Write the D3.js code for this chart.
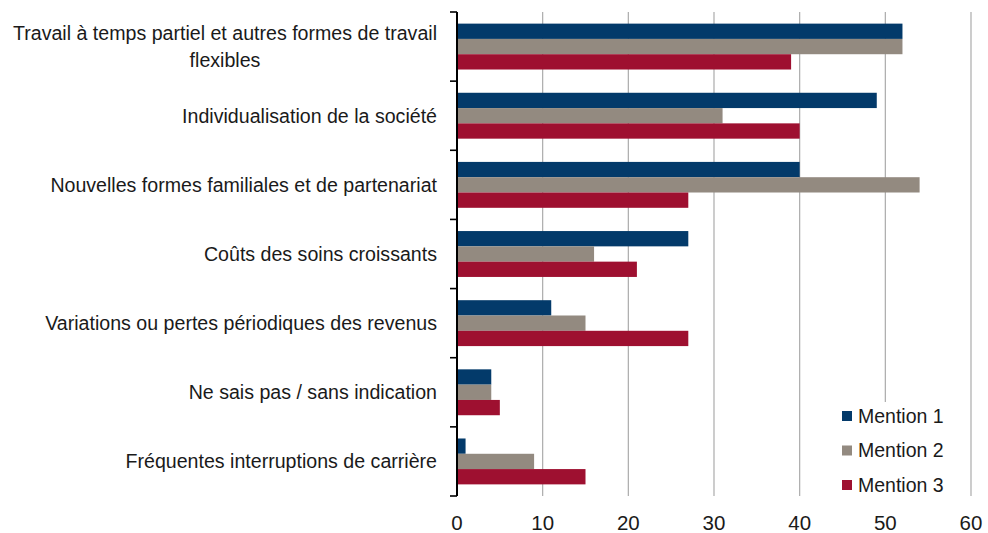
<!DOCTYPE html>
<html>
<head>
<meta charset="utf-8">
<script src="https://cdn.jsdelivr.net/npm/d3@7"></script>
<style>
  html, body { margin: 0; padding: 0; background: #fff; }
  svg { display: block; font-family: "Liberation Sans", Arial, sans-serif; }
</style>
</head>
<body>
<svg id="chart" width="988" height="533"></svg>
<script>
// Categories (top to bottom); multi-line labels split with "\n"
const categories = [
  "Travail à temps partiel et autres formes de travail\nflexibles",
  "Individualisation de la société",
  "Nouvelles formes familiales et de partenariat",
  "Coûts des soins croissants",
  "Variations ou pertes périodiques des revenus",
  "Ne sais pas / sans indication",
  "Fréquentes interruptions de carrière"
];
const seriesNames = ["Mention 1", "Mention 2", "Mention 3"];
const mention1 = [52, 49, 40, 27, 11, 4, 1];
const mention2 = [52, 31, 54, 16, 15, 4, 9];
const mention3 = [39, 40, 27, 21, 27, 5, 15];
const xTicks = [0, 10, 20, 30, 40, 50, 60];
const colors = ["#033a6a", "#938a80", "#9e1030"];

const seriesValues = [mention1, mention2, mention3];

const svg = d3.select("#chart");

const x = d3.scaleLinear().domain([0, 60]).range([457, 971]);
const y = d3.scaleBand().domain(categories).range([12, 496]).paddingInner(0).paddingOuter(0);
const ySub = d3.scaleBand().domain(seriesNames).range([0, y.bandwidth()])
  .paddingInner(0).paddingOuter(0.76);

// Vertical gridlines
svg.append("g").selectAll("line").data(xTicks.filter(d => d > 0)).join("line")
  .attr("x1", d => x(d)).attr("x2", d => x(d))
  .attr("y1", 12).attr("y2", 496)
  .attr("stroke", "#ababab").attr("stroke-width", 1.2);

// Bars
const groups = svg.append("g").selectAll("g").data(categories).join("g")
  .attr("transform", d => `translate(0,${y(d)})`);
groups.selectAll("rect")
  .data((c, i) => seriesNames.map((s, j) => ({ s, j, v: seriesValues[j][i] })))
  .join("rect")
  .attr("x", x(0))
  .attr("y", d => ySub(d.s))
  .attr("width", d => x(d.v) - x(0))
  .attr("height", ySub.bandwidth())
  .attr("fill", d => colors[d.j]);

// Category axis line and tick marks at band boundaries
const boundaries = categories.map(c => y(c)).concat([y.range()[1]]);
svg.append("line")
  .attr("x1", x(0)).attr("x2", x(0))
  .attr("y1", 12).attr("y2", 496)
  .attr("stroke", "#000").attr("stroke-width", 2);
svg.append("g").selectAll("line").data(boundaries).join("line")
  .attr("x1", x(0) - 7).attr("x2", x(0))
  .attr("y1", d => d).attr("y2", d => d)
  .attr("stroke", "#000").attr("stroke-width", 1.6);

// Category labels (right-aligned block, lines centred on each other)
const labelRight = 437;
categories.forEach(c => {
  const lines = c.split("\n");
  const g = svg.append("g");
  const lh = 27;
  const cy = y(c) + y.bandwidth() / 2;
  const texts = lines.map((ln, k) => g.append("text")
    .attr("y", cy + (k - (lines.length - 1) / 2) * lh)
    .attr("dy", "0.35em")
    .attr("font-size", 19.6)
    .attr("fill", "#1a1a1a")
    .text(ln));
  const widths = texts.map(t => t.node().getComputedTextLength());
  const maxW = Math.max(...widths);
  texts.forEach(t => t.attr("text-anchor", "middle").attr("x", labelRight - maxW / 2));
});

// Value axis tick labels
svg.append("g").selectAll("text").data(xTicks).join("text")
  .attr("x", d => x(d)).attr("y", 523).attr("dy", "0.35em")
  .attr("text-anchor", "middle")
  .attr("font-size", 20.5)
  .attr("fill", "#1a1a1a")
  .text(d => d);

// Legend with white backing
const legend = svg.append("g");
legend.append("rect").attr("x", 836).attr("y", 402).attr("width", 112).attr("height", 94).attr("fill", "#fff");
seriesNames.forEach((s, j) => {
  const ly = 416 + j * 34.5;
  legend.append("rect").attr("x", 842).attr("y", ly - 5).attr("width", 10).attr("height", 10).attr("fill", colors[j]);
  legend.append("text").attr("x", 858).attr("y", ly).attr("dy", "0.35em")
    .attr("font-size", 19.5).attr("fill", "#1a1a1a").text(s);
});
</script>
</body>
</html>
